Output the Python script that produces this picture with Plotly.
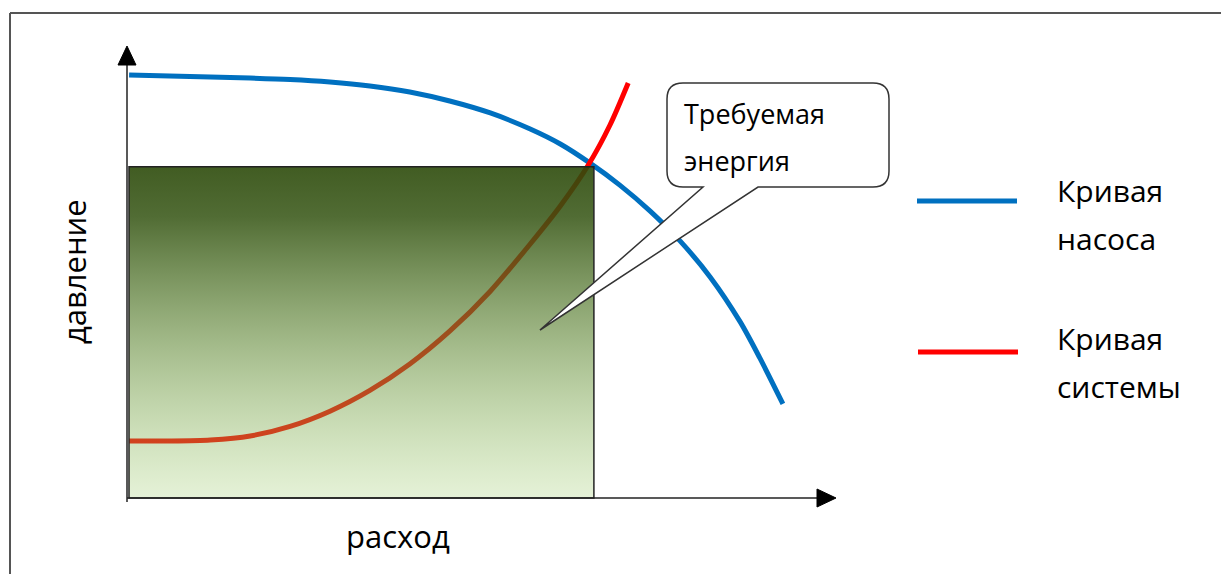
import base64
import plotly.graph_objects as go

# ---------------- data (flow, pressure in arbitrary units) ----------------
pump_flow = [0.3, 6.1, 11.9, 17.6, 23.3, 29.0, 34.7, 40.4, 46.1, 51.9, 57.6, 61.9, 66.1,
             70.4, 74.7, 79.0, 83.3, 87.6, 90.4, 93.7]
pump_pressure = [94.0, 93.78, 93.56, 93.33, 93.0, 92.44, 91.56, 90.22, 88.22, 85.56, 82.0, 78.67,
                 74.47, 69.53, 63.8, 57.13, 49.13, 39.13, 31.13, 20.91]

sys_flow = [0.3, 6.1, 11.9, 17.6, 23.3, 29.0, 34.7, 40.4, 46.1, 51.9, 57.6, 61.9, 65.9, 69.0, 71.6]
sys_pressure = [12.67, 12.67, 12.89, 13.78, 15.91, 19.29, 23.91, 29.78, 37.07, 45.96, 56.44,
                64.89, 74.0, 82.89, 92.22]

operating_flow = 66.7
operating_pressure = 73.6

series_names = ["Кривая насоса", "Кривая системы"]
series_colors = ["#0070c0", "#ff0000"]
x_label = "расход"
y_label = "давление"
callout_text = ["Требуемая", "энергия"]

# ---------------- geometry helpers (screen pixel -> data) ----------------
W, H = 1229, 574
OFF = 8                      # default body margin of the html page
FW, FH = W - OFF, H - OFF    # figure size
X0PX, Y0PX, SX, SY = 127, 498, 7.0, 4.5


def X(px):
    return (px - X0PX) / SX


def Y(py):
    return (Y0PX - py) / SY


def PX(px):
    return (px - OFF) / FW


def PY(py):
    return 1 - (py - OFF) / FH


FONT = "'Open Sans', sans-serif"

fig = go.Figure()

fig.add_trace(go.Scatter(x=pump_flow, y=pump_pressure, mode="lines",
                         line=dict(color=series_colors[0], width=5, shape="spline", smoothing=0.8),
                         name=series_names[0], hoverinfo="skip"))
fig.add_trace(go.Scatter(x=sys_flow, y=sys_pressure, mode="lines",
                         line=dict(color=series_colors[1], width=5, shape="spline", smoothing=0.8),
                         name=series_names[1], hoverinfo="skip"))

shapes = []

# frame (top & left lines)
shapes.append(dict(type="line", xref="paper", yref="paper", x0=PX(10), x1=1.0,
                   y0=PY(13), y1=PY(13), line=dict(color="#555555", width=2)))
shapes.append(dict(type="line", xref="paper", yref="paper", x0=PX(10), x1=PX(10),
                   y0=0, y1=PY(13), line=dict(color="#555555", width=2)))

# gradient energy rectangle: semi-transparent svg image drawn above the curves
svg = ("<svg xmlns='http://www.w3.org/2000/svg' width='100' height='100' preserveAspectRatio='none'>"
       "<defs><linearGradient id='g' x1='0' y1='0' x2='0' y2='1'>"
       "<stop offset='0' stop-color='rgb(44,74,10)' stop-opacity='0.9'/>"
       "<stop offset='0.15' stop-color='rgb(50,82,16)' stop-opacity='0.85'/>"
       "<stop offset='1' stop-color='rgb(150,200,95)' stop-opacity='0.25'/>"
       "</linearGradient></defs><rect width='100' height='100' fill='url(#g)'/></svg>")
src = "data:image/svg+xml;base64," + base64.b64encode(svg.encode()).decode()
x_left = X(129)
images = [dict(source=src, xref="x", yref="y", x=x_left, y=operating_pressure,
               sizex=operating_flow - x_left, sizey=operating_pressure,
               xanchor="left", yanchor="top", sizing="stretch", layer="above", opacity=1)]

shapes.append(dict(type="rect", xref="x", yref="y", x0=x_left, x1=operating_flow,
                   y0=0, y1=operating_pressure, layer="above",
                   line=dict(color="#222222", width=1.5)))

# axes with arrows
shapes.append(dict(type="line", xref="x", yref="y", x0=0, x1=0, y0=Y(502), y1=Y(60),
                   line=dict(color="#222222", width=1.5), layer="above"))
shapes.append(dict(type="line", xref="x", yref="y", x0=0, x1=X(820), y0=0, y1=0,
                   line=dict(color="#222222", width=1.5), layer="above"))
shapes.append(dict(type="path", xref="x", yref="y", layer="above",
                   path=f"M {X(118)},{Y(65)} L {X(127)},{Y(46)} L {X(136)},{Y(65)} Z",
                   fillcolor="black", line=dict(color="black", width=1)))
shapes.append(dict(type="path", xref="x", yref="y", layer="above",
                   path=f"M {X(817)},{Y(489)} L {X(836)},{Y(498)} L {X(817)},{Y(507)} Z",
                   fillcolor="black", line=dict(color="black", width=1)))

# callout bubble
l, r, t, b, rr = 667, 889, 83, 187, 16
p1, p2, tipx, tipy = 703, 758, 540, 330
path = (f"M {X(l + rr)},{Y(t)} L {X(r - rr)},{Y(t)} "
        f"Q {X(r)},{Y(t)} {X(r)},{Y(t + rr)} L {X(r)},{Y(b - rr)} "
        f"Q {X(r)},{Y(b)} {X(r - rr)},{Y(b)} L {X(p2)},{Y(b)} "
        f"L {X(tipx)},{Y(tipy)} L {X(p1)},{Y(b)} L {X(l + rr)},{Y(b)} "
        f"Q {X(l)},{Y(b)} {X(l)},{Y(b - rr)} L {X(l)},{Y(t + rr)} "
        f"Q {X(l)},{Y(t)} {X(l + rr)},{Y(t)} Z")
shapes.append(dict(type="path", xref="x", yref="y", layer="above", path=path,
                   fillcolor="white", line=dict(color="#333333", width=1.5)))

# legend lines
shapes.append(dict(type="line", xref="x", yref="y", x0=X(917), x1=X(1017), y0=Y(201), y1=Y(201),
                   line=dict(color=series_colors[0], width=5)))
shapes.append(dict(type="line", xref="x", yref="y", x0=X(918), x1=X(1018), y0=Y(352), y1=Y(352),
                   line=dict(color=series_colors[1], width=5)))

annotations = []


def txt(text, px, py, size, xanchor="left", angle=0):
    annotations.append(dict(text=text, x=X(px), y=Y(py), xref="x", yref="y",
                            showarrow=False, xanchor=xanchor, yanchor="middle",
                            textangle=angle, font=dict(family=FONT, size=size, color="#000000")))


txt(callout_text[0], 682, 113, 27)
txt(callout_text[1], 682, 160, 27)
name1 = series_names[0].split(" ")
name2 = series_names[1].split(" ")
txt(name1[0], 1055, 190, 30)
txt(name1[1], 1055, 238, 30)
txt(name2[0], 1055, 338, 30)
txt(name2[1], 1055, 386, 30)
txt(x_label, 398, 536, 31, xanchor="center")
txt(y_label, 74, 272, 31, xanchor="center", angle=-90)

fig.update_layout(
    width=FW, height=FH,
    margin=dict(l=0, r=0, t=0, b=0),
    paper_bgcolor="white", plot_bgcolor="white",
    showlegend=False,
    xaxis=dict(range=[X(OFF), X(W)], visible=False, fixedrange=True),
    yaxis=dict(range=[Y(H), Y(OFF)], visible=False, fixedrange=True),
    shapes=shapes, annotations=annotations, images=images,
)

fig.write_html("out.html")
